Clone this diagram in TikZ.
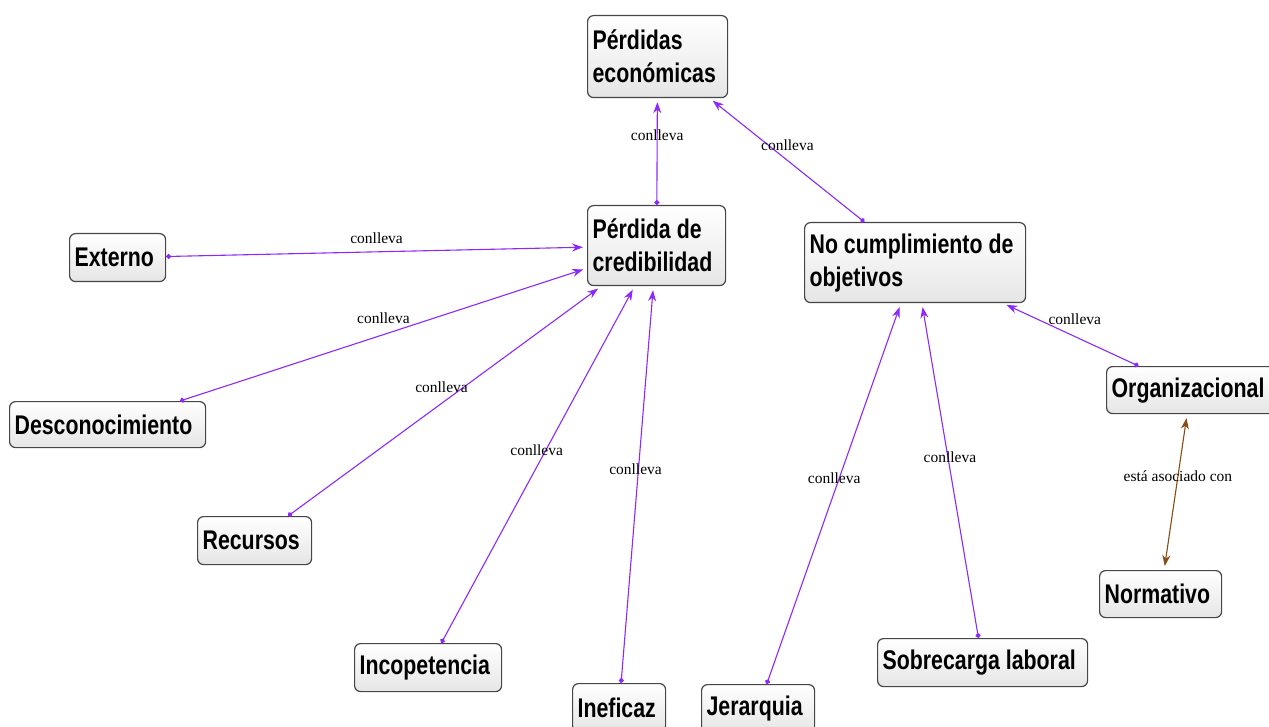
\documentclass[tikz,border=0pt]{standalone}
\usepackage{fontspec}
\usetikzlibrary{arrows.meta}
\newfontfamily\boxfont[FakeStretch=0.79]{Liberation Sans}
\newfontfamily\lblfont{Liberation Serif}
\definecolor{violetline}{RGB}{140,40,250}
\definecolor{brownline}{RGB}{135,75,20}
\hyphenpenalty=10000

\begin{document}
\begin{tikzpicture}[x=1pt, y=-1pt,
  every concept/.style={draw=gray!55!black, line width=1.2pt, rounded corners=6pt,
    top color=white, bottom color=gray!20, anchor=north west, align=flush left,
    inner xsep=5pt, inner ysep=0pt, text=black,
    font=\boxfont\bfseries\fontsize{27}{33}\selectfont},
  lbl/.style={font=\lblfont\fontsize{15.5}{18}\selectfont, inner sep=0pt},
  conn/.style={draw=violetline, line width=1.1pt,
    {Circle[length=5pt]}-{Stealth[length=11pt,width=8pt]}, shorten >=4pt},
  assoc/.style={draw=brownline, line width=1.1pt,
    {Stealth[length=11pt,width=8pt]}-{Stealth[length=11pt,width=8pt]},
    shorten >=4pt, shorten <=4pt}]
\useasboundingbox (0,0) rectangle (1269,727);
\clip (0,0) rectangle (1269,727);

% concepts: name / left / top / width / height / text
\foreach \n/\l/\t/\w/\h/\s in {
    pe/587/15/140/82/{P\'erdidas\\econ\'omicas},
    cred/587/205/138/80/{P\'erdida de\\credibilidad},
    noc/804/222/221/80/{No cumplimiento de\\objetivos},
    ext/69/233/96/48/Externo,
    desc/9/401/196/46/Desconocimiento,
    rec/197/516/114/48/Recursos,
    inco/354/643/147/48/Incopetencia,
    inef/572/683/93/48/Ineficaz,
    jer/701/684/113/48/Jerarquia,
    sob/877/638/210/48/Sobrecarga laboral,
    org/1106/366/168/47/Organizacional,
    norm/1099/570/122/47/Normativo}
  \node [every concept, text width=\w pt-10pt, minimum height=\h pt] (\n) at (\l,\t) {\s};

% links
\foreach \a/\b/\p/\dx/\dy in {
    cred/pe/0.65/0/0, noc/pe/0.62/19/0, ext/cred/0.5/0/14,
    desc/cred/0.5/0/16, rec/cred/0.49/0/16, inco/cred/0.54/-9/0,
    inef/cred/0.54/-3/0, jer/noc/0.54/-5/0, sob/noc/0.54/2/0,
    org/noc/0.47/0/17}
  \draw [conn] (\a) -- (\b)
    node [lbl, pos=\p, xshift=\dx pt, yshift=\dy pt] {conlleva};

\draw [assoc] (norm) -- (org)
  node [lbl, pos=0.6] {est\'a asociado con};
\end{tikzpicture}
\end{document}
